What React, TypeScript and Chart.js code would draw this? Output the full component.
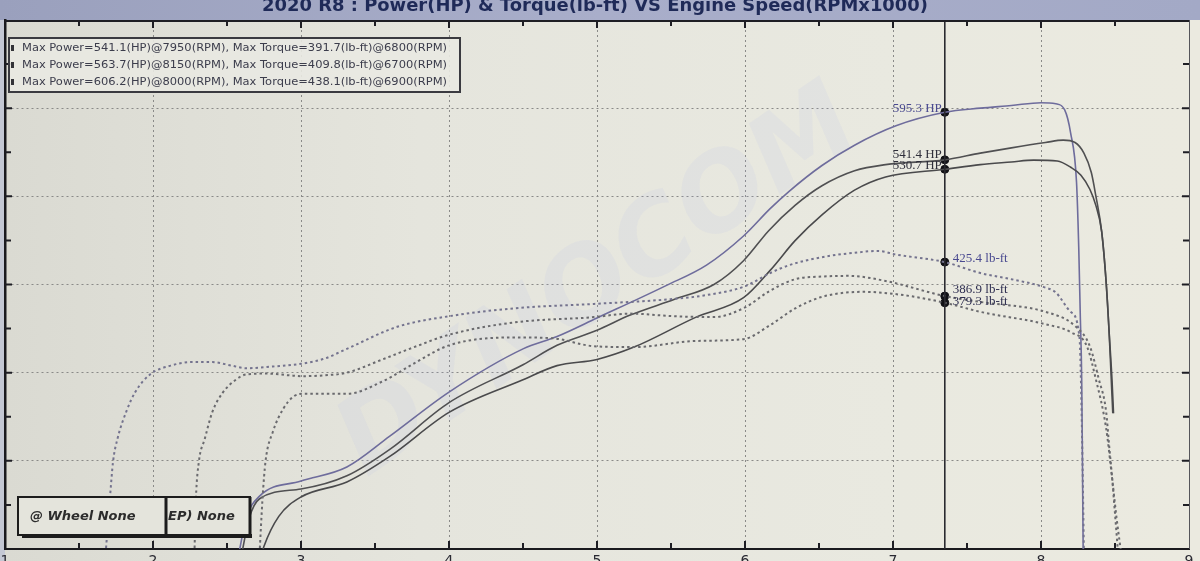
import React, { useEffect, useRef } from "react";
import { Chart, registerables } from "chart.js";
Chart.register(...registerables);

const TITLE = "2020 R8 : Power(HP) & Torque(lb-ft) VS Engine Speed(RPMx1000)";
const LEGEND_LINES = [
  "Max Power=541.1(HP)@7950(RPM), Max Torque=391.7(lb-ft)@6800(RPM)",
  "Max Power=563.7(HP)@8150(RPM), Max Torque=409.8(lb-ft)@6700(RPM)",
  "Max Power=606.2(HP)@8000(RPM), Max Torque=438.1(lb-ft)@6900(RPM)",
];
const BOX_LABELS = ["@ Wheel None", "EP) None"];
const X_TICK_LABELS = [1, 2, 3, 4, 5, 6, 7, 8, 9];

// Run A : 541.1 HP / 391.7 lb-ft
const rpmPowerA = [2.72, 2.75, 2.85, 3.0, 3.31, 3.6, 4.0, 4.5, 4.73, 5.0, 5.25, 5.67, 5.99, 6.17, 6.34, 6.52, 6.74, 6.95, 7.35, 7.59, 7.8, 7.95, 8.11, 8.2, 8.27, 8.33, 8.37, 8.41, 8.44, 8.46, 8.48, 8.49];
const powerA = [85, 103, 137, 159, 176, 205, 255, 292, 308, 315, 329, 363, 385, 416, 450, 479, 507, 522, 530.7, 536, 539, 541.1, 540, 533, 524, 508, 490, 460, 403, 347, 291, 254];
const rpmTorqueA = [2.72, 2.74, 2.76, 2.81, 2.88, 2.95, 3.02, 3.16, 3.31, 3.55, 3.78, 4.0, 4.44, 4.7, 4.98, 5.25, 5.67, 5.99, 6.17, 6.34, 6.52, 6.8, 7.07, 7.35, 7.59, 8.03, 8.2, 8.31, 8.37, 8.44, 8.48, 8.51, 8.54];
const torqueA = [95, 157, 199, 233, 259, 273, 276, 276, 276, 290, 312, 331, 340, 339, 330, 329, 336, 338, 354, 373, 386, 391.7, 388, 379.3, 369, 355, 346, 330, 293, 237, 181, 136, 97];

// Run B : 563.7 HP / 409.8 lb-ft
const rpmPowerB = [2.6, 2.65, 2.72, 3.0, 3.31, 3.6, 4.0, 4.5, 4.73, 5.0, 5.22, 5.52, 5.79, 5.99, 6.16, 6.34, 6.52, 6.74, 6.95, 7.35, 7.59, 7.8, 8.03, 8.15, 8.23, 8.29, 8.34, 8.37, 8.41, 8.44, 8.46, 8.475, 8.485];
const powerB = [95, 135, 157, 168, 183, 213, 266, 309, 331, 348, 365, 383, 400, 427, 461, 490, 512, 529, 536, 541.4, 549, 555, 561, 563.7, 561, 549, 527, 501, 460, 403, 347, 291, 254];
const rpmTorqueB = [2.28, 2.29, 2.31, 2.35, 2.4, 2.47, 2.56, 2.63, 2.76, 2.92, 3.0, 3.16, 3.31, 3.55, 3.78, 4.0, 4.44, 4.98, 5.22, 5.52, 5.79, 6.0, 6.16, 6.34, 6.52, 6.7, 6.95, 7.35, 7.6, 8.03, 8.23, 8.33, 8.39, 8.44, 8.46, 8.48, 8.5, 8.52];
const torqueB = [95, 157, 199, 225, 255, 277, 292, 298, 299, 297, 296, 297, 300, 315, 330, 343, 357, 363, 367, 364, 363, 374, 392, 406, 409, 409.8, 404, 386.9, 380, 369, 353, 330, 293, 256, 218, 182, 140, 97];

// Run C : 606.2 HP / 438.1 lb-ft
const rpmPowerC = [2.58, 2.63, 2.72, 3.0, 3.31, 3.6, 4.0, 4.5, 4.73, 5.0, 5.47, 5.74, 5.99, 6.17, 6.3, 6.52, 6.74, 7.02, 7.35, 7.59, 7.8, 8.0, 8.1, 8.16, 8.2, 8.24, 8.255, 8.265, 8.275, 8.28, 8.285];
const powerC = [95, 135, 160, 177, 193, 228, 278, 327, 341, 362, 399, 422, 455, 486, 506, 535, 558, 580, 595.3, 600, 603, 606.2, 605, 598, 572, 516, 442, 368, 292, 200, 97];
const rpmTorqueC = [1.68, 1.71, 1.73, 1.76, 1.82, 1.88, 1.98, 2.12, 2.26, 2.4, 2.53, 2.63, 2.81, 3.0, 3.16, 3.31, 3.65, 4.0, 4.44, 4.98, 5.47, 5.74, 6.0, 6.17, 6.3, 6.52, 6.74, 6.9, 7.02, 7.35, 7.59, 7.8, 8.02, 8.1, 8.2, 8.26, 8.275, 8.285, 8.29];
const torqueC = [95, 160, 199, 225, 256, 278, 298, 308, 312, 312, 308, 305, 307, 310, 316, 327, 352, 364, 373, 378, 383, 388, 398, 413, 422, 431, 436, 438.1, 434, 425.4, 413, 406, 397, 391, 369, 340, 250, 150, 95];

// Cursor readout
const CURSOR_RPM = 7.35;
const cursorPower = [530.7, 541.4, 595.3];
const cursorTorque = [379.3, 386.9, 425.4];
const cursorPowerLabels = ["530.7 HP", "541.4 HP", "595.3 HP"];
const cursorTorqueLabels = ["379.3 lb-ft", "386.9 lb-ft", "425.4 lb-ft"];

const COLOR_A = "#4a4a4c";
const COLOR_B = "#505052";
const COLOR_C = "#6e6c9c";
const LABEL_POWER_COLORS = ["#2e2e3a", "#2e2e3a", "#4a4a90"];
const LABEL_TORQUE_COLORS = ["#2e2e50", "#2e2e50", "#4a4a90"];

const pts = (xs: number[], ys: number[]) => xs.map((x, i) => ({ x, y: ys[i] }));

const decorPlugin = {
  id: "decor",
  beforeDraw(chart: any) {
    const { ctx, chartArea: a, width, height } = chart;
    ctx.save();
    ctx.fillStyle = "#c4c8d4";
    ctx.fillRect(0, 0, width, height);
    const g = ctx.createLinearGradient(a.left, 0, a.right, 0);
    g.addColorStop(0, "#dadad2");
    g.addColorStop(0.35, "#e5e5dd");
    g.addColorStop(0.75, "#e9e9e0");
    g.addColorStop(1, "#ebeae0");
    ctx.fillStyle = g;
    ctx.fillRect(a.left, a.top, width - a.left, height - a.top);
    // title bar
    const tg = ctx.createLinearGradient(0, 0, width, 0);
    tg.addColorStop(0, "#9aa0bd");
    tg.addColorStop(0.5, "#a9aeca");
    tg.addColorStop(1, "#a3a9c6");
    ctx.fillStyle = tg;
    ctx.fillRect(0, 0, width, a.top);
    ctx.restore();
  },
  beforeDatasetsDraw(chart: any) {
    const { ctx } = chart;
    ctx.save();
    ctx.translate(600, 285);
    ctx.rotate(-0.6);
    ctx.font = "italic bold 105px 'DejaVu Sans'";
    ctx.textAlign = "center";
    ctx.textBaseline = "middle";
    ctx.fillStyle = "rgba(170,185,235,0.11)";
    ctx.fillText("DYNOCOM", 0, 0);
    ctx.restore();
  },
  afterDatasetsDraw(chart: any) {
    const { ctx, chartArea: a, scales } = chart;
    const xs = scales.x;
    const ys = scales.y;
    ctx.save();
    // frame
    ctx.strokeStyle = "#1e1e24";
    ctx.lineWidth = 2;
    ctx.beginPath();
    ctx.moveTo(a.left, a.top + 1);
    ctx.lineTo(a.right, a.top + 1);
    ctx.stroke();
    ctx.lineWidth = 1;
    ctx.strokeStyle = "#55555a";
    ctx.beginPath();
    ctx.moveTo(a.right + 0.5, a.top);
    ctx.lineTo(a.right + 0.5, a.bottom);
    ctx.stroke();
    // inward ticks
    ctx.strokeStyle = "#1e1e24";
    ctx.lineWidth = 2;
    for (let v = 1.5; v < 9; v += 0.5) {
      const px = xs.getPixelForValue(v);
      const len = Number.isInteger(v) ? 8 : 6;
      ctx.beginPath();
      ctx.moveTo(px, a.bottom);
      ctx.lineTo(px, a.bottom - len);
      ctx.moveTo(px, a.top);
      ctx.lineTo(px, a.top + len);
      ctx.stroke();
    }
    for (let v = 150; v < 700; v += 50) {
      const py = ys.getPixelForValue(v);
      const len = v % 100 === 0 ? 7 : 6;
      ctx.beginPath();
      ctx.moveTo(a.left, py);
      ctx.lineTo(a.left + len, py);
      ctx.moveTo(a.right, py);
      ctx.lineTo(a.right - len, py);
      ctx.stroke();
    }
    // x tick labels (cut at the bottom edge)
    ctx.fillStyle = "#2a2a33";
    ctx.font = "14px 'DejaVu Sans'";
    ctx.textAlign = "center";
    ctx.textBaseline = "top";
    X_TICK_LABELS.forEach((v) => {
      ctx.fillText(String(v), xs.getPixelForValue(v), a.bottom + 5);
    });
    // cursor labels
    const cx = xs.getPixelForValue(CURSOR_RPM);
    ctx.font = "13px 'Liberation Serif'";
    ctx.textBaseline = "alphabetic";
    ctx.textAlign = "right";
    cursorPower.forEach((v, i) => {
      ctx.fillStyle = LABEL_POWER_COLORS[i];
      const off = i === 0 ? 0 : i === 1 ? -2 : 0;
      ctx.fillText(cursorPowerLabels[i], cx - 3, ys.getPixelForValue(v) + off);
    });
    ctx.textAlign = "left";
    cursorTorque.forEach((v, i) => {
      ctx.fillStyle = LABEL_TORQUE_COLORS[i];
      const off = i === 0 ? 2 : i === 1 ? -3 : 0;
      ctx.fillText(cursorTorqueLabels[i], cx + 8, ys.getPixelForValue(v) + off);
    });
    // legend box
    ctx.fillStyle = "rgba(233,233,226,0.9)";
    ctx.fillRect(9, 38, 451, 54);
    ctx.strokeStyle = "#3a3a40";
    ctx.lineWidth = 2;
    ctx.strokeRect(9, 38, 451, 54);
    ctx.font = "11px 'DejaVu Sans'";
    ctx.textBaseline = "middle";
    ctx.textAlign = "left";
    LEGEND_LINES.forEach((t, i) => {
      const y = 48 + i * 17;
      ctx.fillStyle = "#333338";
      ctx.fillRect(11, y - 3, 3, 6);
      ctx.fillStyle = "#3c3d4c";
      const w = ctx.measureText(t).width;
      ctx.save();
      ctx.translate(22, y);
      ctx.scale(425 / w, 1);
      ctx.fillText(t, 0, 0);
      ctx.restore();
    });
    // bottom boxes
    ctx.fillStyle = "#1c1c1c";
    ctx.fillRect(22, 534, 230, 4);
    ctx.fillStyle = "#e4e4dc";
    ctx.fillRect(18, 497, 148, 38);
    ctx.fillRect(166, 497, 84, 38);
    ctx.strokeStyle = "#1c1c1c";
    ctx.lineWidth = 2;
    ctx.strokeRect(18, 497, 148, 38);
    ctx.strokeRect(166, 497, 84, 38);
    ctx.lineWidth = 3;
    ctx.beginPath();
    ctx.moveTo(166, 497);
    ctx.lineTo(166, 536);
    ctx.moveTo(250, 497);
    ctx.lineTo(250, 536);
    ctx.stroke();
    ctx.font = "italic bold 13px 'DejaVu Sans'";
    ctx.fillStyle = "#2c2c2c";
    ctx.fillText(BOX_LABELS[0], 30, 517);
    ctx.fillText(BOX_LABELS[1], 168, 517);
    // title
    ctx.font = "bold 18px 'DejaVu Sans'";
    const tw = ctx.measureText(TITLE).width;
    ctx.fillStyle = "#1f2a58";
    ctx.textAlign = "left";
    ctx.textBaseline = "middle";
    ctx.save();
    ctx.translate(262, 6);
    ctx.scale(666 / tw, 1);
    ctx.fillText(TITLE, 0, 0);
    ctx.restore();
    ctx.restore();
  },
};

export default function App() {
  const ref = useRef<HTMLCanvasElement>(null);
  useEffect(() => {
    document.body.style.margin = "0";
    document.body.style.overflow = "hidden";
    const canvas = ref.current!;
    const power = (data: any, color: string) => ({
      data,
      borderColor: color,
      borderWidth: 1.6,
      pointRadius: 0,
      cubicInterpolationMode: "monotone" as const,
    });
    const torque = (data: any, color: string) => ({
      data,
      borderColor: color,
      borderWidth: 2,
      borderDash: [2.5, 3],
      pointRadius: 0,
      cubicInterpolationMode: "monotone" as const,
    });
    const chart = new Chart(canvas, {
      type: "line",
      data: {
        datasets: [
          {
            data: [{ x: CURSOR_RPM, y: 100 }, { x: CURSOR_RPM, y: 700 }],
            borderColor: "#2a2a30",
            borderWidth: 1.6,
            pointRadius: 0,
            tension: 0,
          },
          torque(pts(rpmTorqueA, torqueA), "#6a6a6e"),
          torque(pts(rpmTorqueB, torqueB), "#6a6a6e"),
          torque(pts(rpmTorqueC, torqueC), "#74738e"),
          power(pts(rpmPowerA, powerA), COLOR_A),
          power(pts(rpmPowerB, powerB), COLOR_B),
          power(pts(rpmPowerC, powerC), COLOR_C),
          {
            data: [
              ...cursorPower.map((y) => ({ x: CURSOR_RPM, y })),
              ...cursorTorque.map((y) => ({ x: CURSOR_RPM, y })),
            ],
            showLine: false,
            pointRadius: 4,
            pointBackgroundColor: "#111116",
            pointBorderColor: "#111116",
            borderColor: "#111116",
          },
        ],
      },
      options: {
        animation: false,
        responsive: false,
        events: [],
        layout: { padding: { left: 3, right: 11, top: 20, bottom: 12 } },
        plugins: {
          legend: { display: false },
          tooltip: { enabled: false },
          title: { display: false },
        },
        scales: {
          x: {
            type: "linear",
            min: 1,
            max: 9,
            ticks: { display: false, stepSize: 1 },
            grid: { drawTicks: false, color: "#8a8a88", lineWidth: 1 },
            border: { display: true, color: "#1a1a1e", width: 2, dash: [2, 3] },
          },
          y: {
            type: "linear",
            min: 100,
            max: 700,
            ticks: { display: false, stepSize: 100 },
            grid: { drawTicks: false, color: "#8a8a88", lineWidth: 1 },
            border: { display: true, color: "#1a1a1e", width: 2.5, dash: [2, 3] },
          },
        },
      },
      plugins: [decorPlugin],
    });
    return () => chart.destroy();
  }, []);
  return (
    <div style={{ width: 1200, height: 561, overflow: "hidden" }}>
      <canvas ref={ref} width={1200} height={561} style={{ display: "block" }} />
    </div>
  );
}
